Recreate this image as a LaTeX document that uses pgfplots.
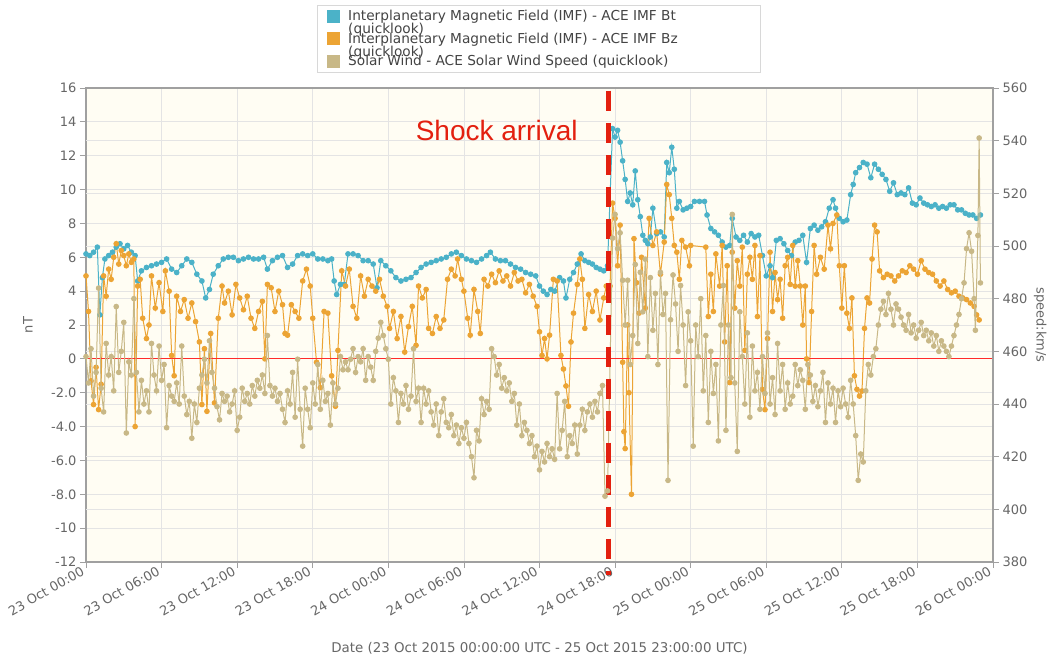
\documentclass[border=0pt]{standalone}
\usepackage{pgfplots}
\pgfplotsset{compat=1.18}
\usepackage{fontspec}
\setmainfont{DejaVu Sans}
\newfontfamily\arialfont{Liberation Sans}
\definecolor{btcol}{HTML}{4BB2C8}
\definecolor{bzcol}{HTML}{ECA434}
\definecolor{spcol}{HTML}{C8B887}
\definecolor{gridcol}{HTML}{E4E4E4}
\definecolor{axiscol}{HTML}{A0A0A0}
\definecolor{cream}{HTML}{FFFDF3}
\definecolor{tickcol}{HTML}{666666}
\definecolor{legtext}{HTML}{444444}
\definecolor{legbord}{HTML}{D8D8D8}
\definecolor{zeroline}{HTML}{FF2A2A}
\definecolor{shockred}{HTML}{E3200F}
\pgfplotsset{
  serstyle/.style={color=#1, line width=1pt, mark=*, mark size=2.3pt, mark options={draw=none, fill=#1}},
}
\begin{document}
\begin{tikzpicture}
\useasboundingbox (-86pt,-100pt) rectangle (973pt,562pt);
\begin{axis}[
  at={(0pt,0pt)}, anchor=south west,
  scale only axis, width=907pt, height=474pt,
  xmin=0, xmax=72, ymin=-12, ymax=16,
  xtick={0,6,...,72},
  xticklabels={23 Oct 00:00,23 Oct 06:00,23 Oct 12:00,23 Oct 18:00,24 Oct 00:00,24 Oct 06:00,24 Oct 12:00,24 Oct 18:00,25 Oct 00:00,25 Oct 06:00,25 Oct 12:00,25 Oct 18:00,26 Oct 00:00},
  ytick={-12,-10,...,16},
  yticklabels={-12,-10,-8.0,-6.0,-4.0,-2.0,0,2,4,6,8,10,12,14,16},
  xtick pos=left, ytick pos=left,
  tick align=outside, major tick length=6pt,
  xmajorgrids, ymajorgrids,
  extra y ticks={-8.8889,-5.7778,-2.6667,0.4444,3.5556,6.6667,9.7778,12.8889},
  extra y tick labels={},
  extra y tick style={grid=major, major tick length=0pt},
  grid style={draw=gridcol, line width=0.8pt},
  axis line style={draw=axiscol, line width=1.3pt},
  tick style={draw=axiscol, line width=0.8pt},
  axis background/.style={fill=cream},
  yticklabel style={font=\fontsize{13}{15}\selectfont, text=tickcol},
  xticklabel style={font=\fontsize{13}{15}\selectfont, text=tickcol, rotate=30, anchor=east},
  ylabel={nT},
  ylabel style={at={(axis description cs:-0.064,0.5)}, anchor=center, rotate=0, font=\fontsize{13}{15}\selectfont, text=tickcol},
  xlabel={Date (23 Oct 2015 00:00:00 UTC - 25 Oct 2015 23:00:00 UTC)},
  xlabel style={at={(axis description cs:0.5,-0.181)}, anchor=center, font=\fontsize{13.4}{15}\selectfont, text=tickcol},
  legend style={at={(axis description cs:0.2547,1.175)}, anchor=north west, draw=legbord, fill=white, text=legtext,
    font=\fontsize{13.7}{16}\selectfont, inner xsep=4pt, inner ysep=3pt, row sep=6.5pt,
    nodes={inner sep=2pt, anchor=west}},
  legend cell align=left,
]
\addlegendimage{legend image code/.code={\path[draw=none,fill=none] (0pt,0pt) -- (25pt,0pt); \fill[btcol] (6pt,-6pt) rectangle (18pt,6pt);}}
\addlegendentry{\makebox[406pt][l]{\rlap{\raisebox{-13pt}[0pt][0pt]{(quicklook)}}Interplanetary Magnetic Field (IMF) - ACE IMF Bt}}
\addlegendimage{legend image code/.code={\path[draw=none,fill=none] (0pt,0pt) -- (25pt,0pt); \fill[bzcol] (6pt,-6pt) rectangle (18pt,6pt);}}
\addlegendentry{\rlap{\raisebox{-13pt}[0pt][0pt]{(quicklook)}}Interplanetary Magnetic Field (IMF) - ACE IMF Bz}
\addlegendimage{legend image code/.code={\path[draw=none,fill=none] (0pt,0pt) -- (25pt,0pt); \fill[spcol] (6pt,-6pt) rectangle (18pt,6pt);}}
\addlegendentry{Solar Wind - ACE Solar Wind Speed (quicklook)}

% Bt
\addplot[forget plot, serstyle=btcol] coordinates {
(0,6.2)(0.3,6.1)(0.6,6.3)(0.9,6.6)(1.1,2.6)(1.3,4.8)(1.5,5.9)(1.8,6.1)(2.1,6.3)(2.4,6.6)(2.7,6.8)(3.0,6.5)(3.3,6.7)(3.6,6.3)(3.9,6.1)(4.1,4.6)(4.4,5.2)(4.8,5.4)(5.2,5.5)(5.6,5.6)(6.0,5.7)(6.4,5.9)(6.8,5.3)(7.2,5.1)(7.6,5.5)(8.0,5.9)(8.4,5.7)(8.8,5.0)(9.2,4.6)(9.5,3.6)(9.8,4.1)(10.1,5.0)(10.5,5.5)(10.9,5.9)(11.3,6.0)(11.7,6.0)(12.1,5.8)(12.5,5.9)(12.9,6.0)(13.3,5.9)(13.7,5.9)(14.1,6.0)(14.4,5.3)(14.8,5.8)(15.2,6.0)(15.6,6.1)(16.0,5.4)(16.4,5.6)(16.8,6.1)(17.2,6.2)(17.6,6.1)(18.0,6.2)(18.4,5.9)(18.8,5.9)(19.2,5.8)(19.5,5.9)(19.7,4.6)(19.9,3.8)(20.2,4.4)(20.5,4.4)(20.8,6.2)(21.2,6.2)(21.6,6.1)(22.0,5.8)(22.4,5.8)(22.8,5.6)(23.1,4.2)(23.4,5.8)(23.8,5.5)(24.2,5.2)(24.6,4.8)(25.0,4.6)(25.4,4.7)(25.8,4.8)(26.2,5.1)(26.6,5.4)(27.0,5.6)(27.4,5.7)(27.8,5.8)(28.2,5.9)(28.6,6.0)(29.0,6.2)(29.4,6.3)(29.8,6.1)(30.2,5.9)(30.6,5.8)(31.0,5.7)(31.4,5.9)(31.8,6.1)(32.1,6.3)(32.5,5.9)(32.9,5.8)(33.3,5.8)(33.7,5.6)(34.1,5.4)(34.5,5.3)(34.9,5.1)(35.3,5.0)(35.7,4.9)(36.0,4.3)(36.3,4.0)(36.6,3.8)(36.9,4.1)(37.2,4.0)(37.6,4.8)(37.9,4.6)(38.1,3.6)(38.4,4.7)(38.7,5.1)(39.0,5.6)(39.3,6.2)(39.6,5.8)(39.9,5.7)(40.2,5.6)(40.5,5.4)(40.8,5.3)(41.1,5.2)(41.4,5.5)
(41.8,13.6)(42.0,13.1)(42.2,13.5)(42.4,12.8)(42.6,11.7)(42.8,10.6)(43.0,9.3)(43.2,9.8)(43.4,9.1)(43.6,11.1)(43.8,9.4)(44.0,8.4)(44.2,7.3)(44.4,7.0)(44.6,6.8)(44.8,7.2)(45.0,8.9)(45.3,7.4)(45.6,7.5)(45.9,7.2)(46.1,11.6)(46.3,11.0)(46.5,12.5)(46.7,11.2)(46.9,8.9)(47.1,9.3)(47.4,8.8)(47.7,8.9)(48.0,9.0)(48.3,9.3)(48.7,9.3)(49.1,9.3)(49.3,8.5)(49.6,7.7)(49.9,7.5)(50.2,7.3)(50.5,6.9)(50.8,6.6)(51.1,6.7)(51.3,8.3)(51.6,7.2)(51.9,7.0)(52.2,7.3)(52.5,6.9)(52.8,7.4)(53.1,7.2)(53.4,7.3)(53.7,6.1)(54.0,4.9)(54.3,5.5)(54.5,4.8)(54.8,7.0)(55.1,7.1)(55.4,6.8)(55.7,6.4)(56.0,6.1)(56.3,6.9)(56.6,7.0)(56.9,7.3)(57.2,5.7)(57.5,7.7)(57.8,7.9)(58.1,7.6)(58.4,7.8)(58.7,8.1)(59.0,8.9)(59.3,9.4)(59.5,8.9)(59.8,8.3)(60.1,8.1)(60.4,8.2)(60.7,9.7)(60.9,10.3)(61.1,11.0)(61.4,11.3)(61.7,11.6)(62.0,11.5)(62.3,10.7)(62.6,11.5)(62.9,11.2)(63.2,10.9)(63.5,10.6)(63.8,9.9)(64.1,10.4)(64.4,9.7)(64.7,9.8)(65.0,9.7)(65.3,10.1)(65.6,9.2)(65.9,9.1)(66.2,9.5)(66.5,9.2)(66.8,9.1)(67.1,9.0)(67.4,9.1)(67.7,8.9)(68.0,9.0)(68.3,8.9)(68.6,9.1)(68.9,9.1)(69.2,8.8)(69.5,8.8)(69.8,8.6)(70.1,8.5)(70.4,8.5)(70.7,8.3)(71.0,8.5)
};
% Bz
\addplot[forget plot, serstyle=bzcol] coordinates {
(0.0,4.9)(0.2,2.8)(0.4,-1.3)(0.6,-2.7)(0.8,-0.5)(1.0,-3.0)(1.2,-1.5)(1.4,4.9)(1.6,3.7)(1.8,5.3)(2.0,4.7)(2.2,6.0)(2.4,6.8)(2.6,5.6)(2.8,6.4)(3.0,6.1)(3.2,5.5)(3.4,6.2)(3.6,5.7)(3.8,5.9)(3.9,-4.0)(4.1,4.3)(4.3,4.7)(4.5,2.4)(4.8,1.2)(5.0,2.0)(5.2,4.9)(5.5,3.0)(5.8,4.5)(6.1,2.8)(6.3,5.2)(6.6,4.0)(6.8,0.2)(7.0,-1.0)(7.2,3.7)(7.5,2.8)(7.8,3.5)(8.1,2.4)(8.4,3.3)(8.7,2.2)(9.0,1.0)(9.2,-2.7)(9.4,0.6)(9.6,-3.1)(9.9,1.5)(10.2,-2.6)(10.5,2.4)(10.8,4.3)(11.0,3.3)(11.3,4.0)(11.6,2.6)(11.9,4.4)(12.2,3.6)(12.5,2.9)(12.8,3.7)(13.1,2.4)(13.4,1.8)(13.7,2.8)(14.0,3.4)(14.2,0.0)(14.4,4.4)(14.7,4.2)(15.0,2.8)(15.3,4.0)(15.6,3.2)(15.8,1.5)(16.0,1.4)(16.3,3.2)(16.6,2.8)(16.9,2.4)(17.2,4.6)(17.5,5.3)(17.8,4.3)(18.0,2.4)(18.3,-0.2)(18.6,-1.7)(18.9,2.8)(19.2,2.7)(19.5,-1.0)(19.8,-2.8)(20.0,0.5)(20.3,5.2)(20.6,4.3)(20.9,5.3)(21.2,3.1)(21.5,2.4)(21.8,4.9)(22.1,3.7)(22.4,4.7)(22.7,4.3)(23.0,4.0)(23.3,4.7)(23.6,3.7)(23.9,3.1)(24.1,1.8)(24.4,2.8)(24.7,1.2)(25.0,2.5)(25.3,0.4)(25.6,1.9)(25.9,3.1)(26.2,0.8)(26.4,4.3)(26.7,3.6)(27.0,4.1)(27.2,1.8)(27.5,1.5)(27.8,2.5)(28.1,1.8)(28.4,2.3)(28.7,4.7)(29.0,5.3)(29.3,4.9)(29.5,5.9)(29.8,4.7)(30.0,4.0)(30.3,2.4)(30.5,1.4)(30.8,4.1)(31.1,2.8)(31.3,1.5)(31.6,4.7)(31.9,4.3)(32.2,5.0)(32.5,4.5)(32.8,5.2)(33.1,4.6)(33.4,4.9)(33.7,4.3)(34.0,5.1)(34.3,4.6)(34.6,4.7)(34.9,3.9)(35.2,4.4)(35.5,3.7)(35.8,3.1)(36.0,1.6)(36.2,0.2)(36.4,1.2)(36.6,0.0)(36.8,1.4)(37.1,4.7)(37.4,4.6)(37.7,0.2)(37.9,-0.6)(38.1,-1.6)(38.3,-2.8)(38.5,1.0)(38.7,2.7)(39.0,4.4)(39.2,5.9)(39.4,4.7)(39.6,1.8)(39.9,3.8)(40.2,2.8)(40.5,4.0)(40.8,2.3)(41.1,3.6)(41.3,4.3)(41.6,4.3)
(41.8,9.2)(42.0,8.3)(42.2,5.5)(42.4,7.9)(42.6,-0.2)(42.7,-4.3)(42.8,-5.3)(43.0,2.0)(43.1,-2.0)(43.3,-8.0)(43.5,7.1)(43.7,4.5)(43.9,2.7)(44.1,6.0)(44.4,3.0)(44.7,8.3)(45.0,6.7)(45.3,7.5)(45.6,5.0)(45.9,6.9)(46.1,10.3)(46.3,9.7)(46.5,8.3)(46.7,6.7)(46.9,6.3)(47.1,4.7)(47.3,7.0)(47.6,6.6)(47.9,5.5)(48.0,6.7)(49.2,6.6)(49.4,2.5)(49.6,5.0)(49.8,2.8)(50.0,6.2)(50.3,4.3)(50.5,6.7)(50.7,1.0)(50.9,5.5)(51.1,-1.4)(51.3,6.3)(51.5,3.0)(51.7,5.8)(51.9,4.3)(52.1,6.6)(52.3,0.5)(52.5,5.0)(52.7,6.0)(52.9,4.7)(53.1,6.7)(53.3,2.5)(53.5,6.1)(53.7,-1.8)(53.9,-3.0)(54.1,1.2)(54.3,6.3)(54.5,2.8)(54.7,5.1)(54.9,3.5)(55.1,4.7)(55.3,2.4)(55.5,5.5)(55.7,6.0)(55.9,4.4)(56.1,6.7)(56.3,4.3)(56.5,5.8)(56.7,4.3)(56.9,2.0)(57.1,4.3)(57.2,0.0)(57.4,-1.4)(57.6,2.8)(57.8,6.7)(58.0,5.0)(58.3,6.0)(58.6,5.3)(58.9,7.9)(59.1,6.5)(59.3,8.0)(59.6,8.5)(59.8,5.5)(60.0,3.0)(60.2,5.5)(60.4,2.7)(60.6,1.8)(60.8,3.6)(61.0,-1.0)(61.2,-1.8)(61.4,-2.2)(61.6,-1.9)(61.8,1.8)(62.0,3.6)(62.2,3.3)(62.4,5.9)(62.6,7.9)(62.8,7.5)(63.0,5.2)(63.3,4.8)(63.6,5.0)(63.9,4.9)(64.2,4.6)(64.5,4.9)(64.8,5.2)(65.1,5.1)(65.4,5.5)(65.7,5.3)(66.0,5.0)(66.3,5.8)(66.6,5.3)(66.9,5.1)(67.2,5.0)(67.5,4.6)(67.8,4.3)(68.1,4.6)(68.4,4.1)(68.7,3.9)(69.0,4.0)(69.3,3.7)(69.6,3.6)(69.9,3.5)(70.2,3.3)(70.5,3.1)(70.7,2.6)(70.9,2.3)
};
\addplot[forget plot, color=zeroline, line width=0.9pt, mark=none] coordinates {(0,0) (72,0)};
\end{axis}

\begin{axis}[
  at={(0pt,0pt)}, anchor=south west,
  scale only axis, width=907pt, height=474pt,
  xmin=0, xmax=72, ymin=380, ymax=560,
  axis x line=none, axis y line*=right,
  ytick={380,400,...,560}, ytick pos=right,
  tick align=outside, major tick length=6pt,
  axis line style={draw=axiscol, line width=1.3pt},
  tick style={draw=axiscol, line width=0.8pt},
  /pgf/number format/assume math mode=true,
  yticklabel style={font=\fontsize{13}{15}\selectfont, text=tickcol},
  ylabel={speed:km/s},
  ylabel style={at={(axis description cs:1.052,0.5)}, anchor=center, rotate=180, font=\fontsize{13}{15}\selectfont, text=tickcol},
  clip=false,
]
\addplot[serstyle=spcol] coordinates {
(0.0,458)(0.2,448)(0.4,461)(0.6,443)(0.8,452)(1.0,484)(1.2,446)(1.4,437)(1.6,463)(1.8,451)(2.0,458)(2.2,445)(2.4,477)(2.6,452)(2.8,460)(3.0,471)(3.2,429)(3.4,456)(3.6,451)(3.8,480)(4.0,452)(4.2,437)(4.4,449)(4.6,440)(4.8,445)(5.0,437)(5.2,463)(5.4,451)(5.6,445)(5.8,462)(6.0,449)(6.2,455)(6.4,431)(6.6,447)(6.8,443)(7.0,441)(7.2,448)(7.4,440)(7.6,462)(7.8,443)(8.0,436)(8.2,441)(8.4,427)(8.6,440)(8.8,433)(9.0,446)(9.2,451)(9.4,457)(9.6,448)(9.8,464)(10.0,452)(10.2,446)(10.4,439)(10.6,434)(10.8,444)(11.0,441)(11.2,443)(11.4,437)(11.6,440)(11.8,445)(12.0,430)(12.2,435)(12.4,446)(12.6,441)(12.8,444)(13.0,440)(13.2,447)(13.4,443)(13.6,449)(13.8,446)(14.0,451)(14.2,444)(14.4,466)(14.6,447)(14.8,443)(15.0,446)(15.2,441)(15.4,444)(15.6,438)(15.8,433)(16.0,445)(16.2,440)(16.4,452)(16.6,435)(16.8,457)(17.0,438)(17.2,424)(17.4,446)(17.6,438)(17.8,431)(18.0,448)(18.2,440)(18.4,455)(18.6,438)(18.8,449)(19.0,441)(19.2,444)(19.4,432)(19.6,448)(19.8,440)(20.0,446)(20.2,458)(20.4,453)(20.6,456)(20.8,453)(21.0,457)(21.2,461)(21.4,452)(21.6,458)(21.8,456)(22.0,461)(22.2,449)(22.4,458)(22.6,454)(22.8,449)(23.0,460)(23.2,465)(23.4,471)(23.6,466)(23.8,461)(24.0,457)(24.2,440)(24.4,450)(24.6,445)(24.8,433)(25.0,444)(25.2,440)(25.4,447)(25.6,438)(25.8,443)(26.0,461)(26.2,441)(26.4,446)(26.6,433)(26.8,446)(27.0,440)(27.2,445)(27.4,437)(27.6,432)(27.8,440)(28.0,428)(28.2,437)(28.4,442)(28.6,433)(28.8,431)(29.0,436)(29.2,428)(29.4,432)(29.6,425)(29.8,431)(30.0,427)(30.2,433)(30.4,425)(30.6,420)(30.8,412)(31.0,430)(31.2,426)(31.4,442)(31.6,436)(31.8,441)(32.0,438)(32.2,461)(32.4,458)(32.6,451)(32.8,455)(33.0,446)(33.2,450)(33.4,445)(33.6,448)(33.8,441)(34.0,444)(34.2,432)(34.4,440)(34.6,428)(34.8,433)(35.0,430)(35.2,425)(35.4,428)(35.6,420)(35.8,424)(36.0,415)(36.2,422)(36.4,418)(36.6,425)(36.8,420)(37.0,423)(37.2,419)(37.4,444)(37.6,423)(37.8,430)(38.0,441)(38.2,420)(38.4,428)(38.6,425)(38.8,432)(39.0,421)(39.2,432)(39.4,438)(39.6,430)(39.8,437)(40.0,440)(40.2,435)(40.4,441)(40.6,437)(40.8,444)(41.0,447)(41.2,405)(41.4,407)
(41.8,503)(42.0,512)(42.2,499)(42.4,505)(42.6,487)(42.8,470)(43.0,487)(43.2,455)(43.4,466)(43.6,493)(43.8,463)(44.0,490)(44.2,475)(44.4,495)(44.6,458)(44.8,488)(45.0,468)(45.2,482)(45.4,455)(45.6,490)(45.8,474)(46.0,482)(46.2,411)(46.4,472)(46.6,489)(46.8,478)(47.0,460)(47.2,485)(47.4,470)(47.6,447)(47.8,475)(48.0,464)(48.2,424)(48.4,470)(48.6,458)(48.8,480)(49.0,445)(49.2,466)(49.4,433)(49.6,460)(49.8,444)(50.0,455)(50.2,426)(50.4,470)(50.6,485)(50.8,430)(51.0,470)(51.2,450)(51.3,512)(51.5,448)(51.7,422)(51.9,475)(52.1,458)(52.3,440)(52.5,467)(52.7,435)(52.9,462)(53.1,445)(53.3,452)(53.5,438)(53.7,458)(53.9,444)(54.1,467)(54.3,440)(54.5,450)(54.7,436)(54.9,463)(55.1,445)(55.3,455)(55.5,438)(55.7,448)(55.9,440)(56.1,443)(56.3,455)(56.5,447)(56.7,453)(56.9,449)(57.1,438)(57.3,455)(57.5,451)(57.7,441)(57.9,447)(58.1,439)(58.3,445)(58.5,452)(58.7,433)(58.9,448)(59.1,440)(59.3,446)(59.5,433)(59.7,445)(59.9,439)(60.1,446)(60.3,440)(60.5,435)(60.7,449)(60.9,440)(61.1,428)(61.3,411)(61.5,421)(61.7,418)(61.9,445)(62.1,455)(62.3,451)(62.5,458)(62.7,461)(62.9,470)(63.1,476)(63.3,479)(63.5,474)(63.7,482)(63.9,476)(64.1,470)(64.3,478)(64.5,476)(64.7,473)(64.9,470)(65.1,468)(65.3,474)(65.5,467)(65.7,470)(65.9,465)(66.1,468)(66.3,471)(66.5,466)(66.7,468)(66.9,464)(67.1,467)(67.3,462)(67.5,466)(67.7,460)(67.9,464)(68.1,462)(68.3,460)(68.5,458)(68.7,462)(68.9,466)(69.1,470)(69.3,474)(69.5,480)(69.7,486)(69.9,499)(70.1,505)(70.3,498)(70.5,480)(70.6,468)(70.8,504)(70.9,541)(71.0,486)
};
\draw[shockred, line width=5pt, dash pattern=on 20pt off 12pt] (axis cs:41.5,559) -- (axis cs:41.5,375);
\node[text=shockred, font=\arialfont\fontsize{28}{30}\selectfont, anchor=center] at (axis cs:32.6,544) {Shock arrival};
\end{axis}
\end{tikzpicture}
\end{document}
